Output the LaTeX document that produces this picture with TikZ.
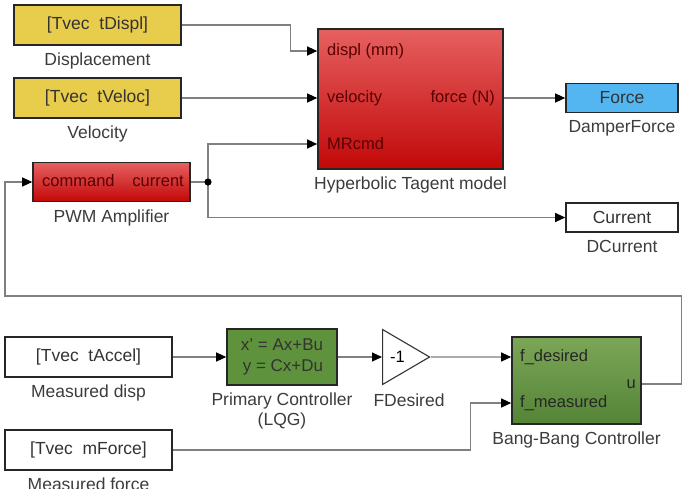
\documentclass[tikz,border=0pt]{standalone}
\usepackage{fontspec}
\setmainfont{Liberation Sans}
\usetikzlibrary{arrows.meta,positioning,shapes.geometric}
\definecolor{wiregray}{RGB}{128,128,128}
\definecolor{blockyellow}{RGB}{232,204,76}
\definecolor{blockblue}{RGB}{84,182,240}
\definecolor{redtop}{RGB}{230,96,96}
\definecolor{redbot}{RGB}{194,8,8}
\definecolor{greentop}{RGB}{124,166,88}
\definecolor{greenbot}{RGB}{84,132,54}
\definecolor{lqggreen}{RGB}{94,146,60}
\definecolor{labelgray}{RGB}{60,60,60}

\begin{document}
\begin{tikzpicture}[x=1pt,y=-1pt,
    block/.style={draw=black!85, line width=1.6pt, rectangle, minimum width=167pt, minimum height=40pt, inner sep=0pt, font=\fontsize{17.5}{20}\selectfont, text=black!80},
    redblock/.style={block, top color=redtop, bottom color=redbot, text=red!35!black},
    greenblock/.style={block, top color=greentop, bottom color=greenbot, text=black!85},
    tag/.style={font=\fontsize{17.5}{20}\selectfont, text=labelgray, inner sep=1pt, align=center},
    port/.style={font=\fontsize{16.5}{19}\selectfont, inner sep=0pt},
    wire/.style={draw=wiregray, line width=1.1pt, -{Triangle[length=10pt,width=9pt,color=black]}},
    line/.style={draw=wiregray, line width=1.1pt}
  ]
  \useasboundingbox (0,0) rectangle (688,488);

  \node[block, fill=blockyellow] (disp) at (97.5,25) {[Tvec\ \ tDispl]};
  \node[tag, below=6pt of disp] (disptag) {Displacement};
  \node[block, fill=blockyellow] (velo) at (97.5,98) {[Tvec\ \ tVeloc]};
  \node[tag, below=6pt of velo] (velotag) {Velocity};
  \node[redblock, minimum width=157pt, minimum height=39pt] (pwm) at (111.5,182) {};
  \node[port, anchor=west, text=red!35!black] (pcmd) at (42,181) {command};
  \node[port, anchor=east, text=red!35!black] (pcur) at (184,181) {current};
  \node[tag, below=6pt of pwm] (pwmtag) {PWM Amplifier};

  \node[redblock, minimum width=185pt, minimum height=140pt] (hyp) at (410.5,99) {};
  \node[port, anchor=west, text=red!35!black] (pdispl) at (327,51) {displ (mm)};
  \node[port, anchor=west, text=red!35!black] (pvel) at (327,98) {velocity};
  \node[port, anchor=west, text=red!35!black] (pmr) at (327,144) {MRcmd};
  \node[port, anchor=east, text=red!35!black] (pforce) at (495,98) {force (N)};
  \node[tag, below=6pt of hyp] (hyptag) {Hyperbolic Tagent model};

  \node[block, fill=blockblue, minimum width=112pt, minimum height=29pt] (force) at (622,98) {Force};
  \node[tag, below=6pt of force] (forcetag) {DamperForce};
  \node[block, fill=white, minimum width=112pt, minimum height=29pt] (curr) at (622,217.5) {Current};
  \node[tag, below=6pt of curr] (currtag) {DCurrent};

  \node[block, fill=white] (mdisp) at (88.5,357) {[Tvec\ \ tAccel]};
  \node[tag, below=6pt of mdisp] (mdisptag) {Measured disp};
  \node[block, fill=white] (mforce) at (88.5,450) {[Tvec\ \ mForce]};
  \node[tag, below=6pt of mforce] (mforcetag) {Measured force};

  \node[block, fill=lqggreen, minimum width=110pt, minimum height=56pt, align=right, font=\fontsize{17}{21}\selectfont] (lqg) at (282,357) {x' = Ax+Bu\\y = Cx+Du};
  \node[tag, below=6pt of lqg] (lqgtag) {Primary Controller\\(LQG)};

  \node[draw=black!80, line width=1.1pt, fill=white, isosceles triangle, isosceles triangle stretches, minimum width=55pt, minimum height=47pt, inner sep=0pt, anchor=west, font=\fontsize{16.5}{19}\selectfont] (gain) at (382,357) {-1};
  \node[tag, anchor=north] (gaintag) at ([xshift=27pt,yshift=-7pt]gain.west |- lqg.south) {FDesired};

  \node[greenblock, minimum width=129pt, minimum height=87pt] (bb) at (576.5,380.5) {};
  \node[port, anchor=west, text=black!85] (pfdes) at (520,357) {f\_desired};
  \node[port, anchor=west, text=black!85] (pfmeas) at (520,403) {f\_measured};
  \node[port, anchor=east, text=black!85] (pu) at (636,384) {u};
  \node[tag, below=6pt of bb] (bbtag) {Bang-Bang Controller};

  \coordinate (jn) at (208,182);
  \coordinate (loopL) at (5,296);

  \draw[wire] (disp.east) -- ++(109,0) |- (pdispl.west -| hyp.west);
  \draw[wire] (velo.east) -- (pvel.west -| hyp.west);
  \draw[line] (pwm.east) -- (jn);
  \draw[wire] (jn) |- (pmr.west -| hyp.west);
  \draw[wire] (jn) |- (curr.west);
  \fill[black] (jn) circle[radius=3.6pt];
  \draw[wire] (pforce.east -| hyp.east) -- (force.west);
  \draw[wire] (pu.east -| bb.east) -- ++(40,0) |- (loopL) |- (pwm.west);
  \draw[wire] (mdisp.east) -- (lqg.west);
  \draw[wire] (lqg.east) -- (gain.west);
  \draw[wire] (gain.apex) -- (pfdes.west -| bb.west);
  \draw[wire] (mforce.east) -- ++(298,0) |- (pfmeas.west -| bb.west);
\end{tikzpicture}
\end{document}
